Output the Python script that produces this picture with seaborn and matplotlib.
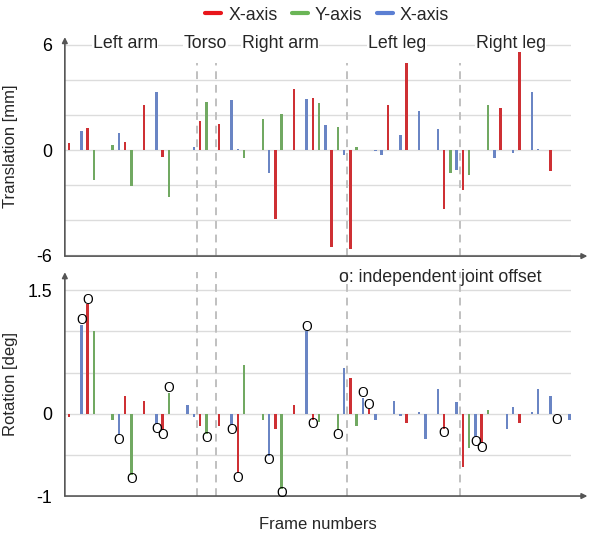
"""
Traslación y rotación por frame, con barras por eje (X, Y, Z).
"""
import numpy as np
import pandas as pd
import matplotlib
matplotlib.use("Agg")
import matplotlib.pyplot as plt
import seaborn as sns
from matplotlib.lines import Line2D

# Datos de traslacion [mm] (frame, valor) por eje
tras_x_frames = [0, 3, 9, 12, 15, 21, 24, 33, 36, 39, 42, 45, 51, 54, 60, 63, 69, 72, 77]
tras_x_vals = [0.38, 1.24, 0.48, 2.55, -0.42, 1.66, 1.5, -3.94, 3.49, 2.97, -5.52, -5.64,
               2.59, 4.99, -3.37, -2.27, 2.38, 5.71, -1.18]
tras_y_frames = [4, 7, 10, 16, 22, 28, 31, 34, 40, 43, 46, 61, 64, 67]
tras_y_vals = [-1.71, 0.27, -2.04, -2.67, 2.72, -0.44, 1.75, 2.08, 2.67, 1.31, 0.15,
               -1.31, -1.45, 2.59]
tras_z_frames = [2, 8, 14, 20, 26, 27, 32, 38, 41, 44, 49, 50, 53, 56, 59, 62, 68, 71, 74, 75]
tras_z_vals = [1.09, 0.95, 3.3, 0.17, 2.86, 0.05, -1.3, 2.91, 1.43, -0.29, -0.05, -0.29,
               0.84, 2.23, 1.18, -1.14, -0.46, -0.19, 3.3, 0.05]

# Datos de rotacion [deg]
rot_x_frames = [0, 3, 9, 12, 15, 21, 24, 27, 33, 36, 39, 45, 48, 54, 60, 63, 66, 72, 78]
rot_x_vals = [-0.04, 1.33, 0.22, 0.15, -0.2, -0.15, -0.15, -0.72, -0.18, 0.105, -0.07,
              0.44, 0.053, -0.11, -0.18, -0.65, -0.36, -0.11, -0.02]
rot_y_frames = [4, 7, 10, 16, 22, 28, 31, 34, 40, 43, 46, 64, 67]
rot_y_vals = [1.01, -0.08, -0.74, 0.25, -0.24, 0.59, -0.07, -0.91, -0.1, -0.2, -0.15,
              -0.42, 0.045]
rot_z_frames = [2, 8, 14, 19, 20, 26, 32, 38, 44, 47, 49, 52, 53, 56, 57, 59, 62, 65,
                70, 71, 74, 75, 77, 80]
rot_z_vals = [1.08, -0.26, -0.13, 0.105, -0.04, -0.14, -0.51, 1.0, 0.55, 0.19, -0.07,
              0.154, -0.03, 0.016, -0.31, 0.3, 0.14, -0.28, -0.18, 0.077, 0.016, 0.3,
              0.21, -0.07]

# Frames con offset independiente de la articulacion
offset_frames = [2, 3, 8, 10, 14, 15, 16, 22, 26, 27, 32, 34, 38, 39, 43, 47, 48, 60, 65, 66, 78]

partes = ["Left arm", "Torso", "Right arm", "Left leg", "Right leg"]
partes_x = [9, 21.8, 33.8, 52.5, 70.6]
separadores = [20.5, 23.5, 44.5, 62.5]

ejes = ["X-axis", "Y-axis", "Z-axis"]
etiquetas_leyenda = ["X-axis", "Y-axis", "X-axis"]
colores = {"X-axis": "#e8161b", "Y-axis": "#6ab556", "Z-axis": "#5b7fd3"}


def armar_tabla(frames_list, vals_list):
    partes_df = []
    for eje, fr, vl in zip(ejes, frames_list, vals_list):
        partes_df.append(pd.DataFrame({"frame": fr, "valor": vl, "eje": eje}))
    return pd.concat(partes_df, ignore_index=True)


datos_tras = armar_tabla([tras_x_frames, tras_y_frames, tras_z_frames],
                         [tras_x_vals, tras_y_vals, tras_z_vals])
datos_rot = armar_tabla([rot_x_frames, rot_y_frames, rot_z_frames],
                        [rot_x_vals, rot_y_vals, rot_z_vals])

sns.set_theme(style="whitegrid")
plt.rcParams["font.family"] = ["Liberation Sans", "DejaVu Sans"]
plt.rcParams["font.size"] = 12.8

fig = plt.figure(figsize=(5.95, 5.38), dpi=100)
ax1 = fig.add_axes([0.109, 0.524, 0.851, 0.407])
ax2 = fig.add_axes([0.109, 0.078, 0.851, 0.416])


def dibujar_panel(ax, datos, ylim, yticks, yticklabels, ylabel):
    sns.barplot(data=datos, x="frame", y="valor", hue="eje", palette=colores,
                native_scale=True, dodge=False, width=0.4, linewidth=0,
                errorbar=None, legend=False, ax=ax)
    ax.set_xlim(-0.64, 80.3)
    ax.set_ylim(*ylim)
    ax.set_yticks(yticks)
    ax.set_yticklabels(yticklabels)
    ax.set_xticks([])
    ax.set_xlabel("")
    ax.set_ylabel(ylabel)
    ax.yaxis.set_label_coords(-0.093, 0.5)
    ax.grid(axis="y", color="#dcdcdc", lw=1)
    ax.grid(axis="x", visible=False)
    ax.tick_params(axis="y", length=0, pad=9, labelsize=12.8, colors="black")
    for s in ax.spines.values():
        s.set_visible(False)
    # ejes con flecha
    ax.annotate("", xy=(0, 1.0), xytext=(0, 0), xycoords="axes fraction",
                arrowprops=dict(arrowstyle="-|>", color="#555555", lw=1.2,
                                mutation_scale=8, shrinkA=0, shrinkB=0),
                annotation_clip=False)
    ax.annotate("", xy=(1.032, 0), xytext=(0, 0), xycoords="axes fraction",
                arrowprops=dict(arrowstyle="-|>", color="#555555", lw=1.2,
                                mutation_scale=8, shrinkA=0, shrinkB=0),
                annotation_clip=False)


dibujar_panel(ax1, datos_tras, (-6.06, 6.45), [-6, -4, -2, 0, 2, 4, 6],
              ["-6", "", "", "0", "", "", "6"], "Translation [mm]")
dibujar_panel(ax2, datos_rot, (-1.0, 1.72), [-1, -0.5, 0, 0.5, 1, 1.5],
              ["-1", "", "0", "", "", "1.5"], "Rotation [deg]")

# Separadores entre partes del cuerpo
for xs in separadores:
    ax1.plot([xs, xs], [-6.06, 5.0], color="#c0c0c0", ls=(0, (4, 3)), lw=1.4, zorder=1)
    ax2.axvline(xs, color="#c0c0c0", ls=(0, (4, 3)), lw=1.4, zorder=1)

for nombre, xp in zip(partes, partes_x):
    ax1.text(xp, 6.1, nombre, ha="center", va="center", fontsize=12.8,
             bbox=dict(facecolor="white", edgecolor="none", pad=0.5))

# Marcadores de offset independiente
rot_por_frame = dict(zip(datos_rot["frame"], datos_rot["valor"]))
for fr in offset_frames:
    v = rot_por_frame[fr]
    dy = 3.4 if v > 0 else -3.4
    ax2.annotate("O", (fr, v), xytext=(0, dy), textcoords="offset points",
                 ha="center", va="center", fontsize=10, color="black", zorder=5)

ax2.text(59.4, 1.65, "o: independent joint offset", ha="center", va="center",
         fontsize=12.8)

ax2.set_xlabel("Frame numbers")
ax2.xaxis.set_label_coords(0.5, -0.094)

handles = [Line2D([0], [0], color=colores[e], lw=3) for e in ejes]
fig.legend(handles, etiquetas_leyenda, loc="center", bbox_to_anchor=(0.55, 0.972),
           ncol=3, frameon=False, handlelength=0.9, handletextpad=0.4,
           columnspacing=0.8, fontsize=12.8)

plt.savefig("out.png", dpi=100)
plt.close()
